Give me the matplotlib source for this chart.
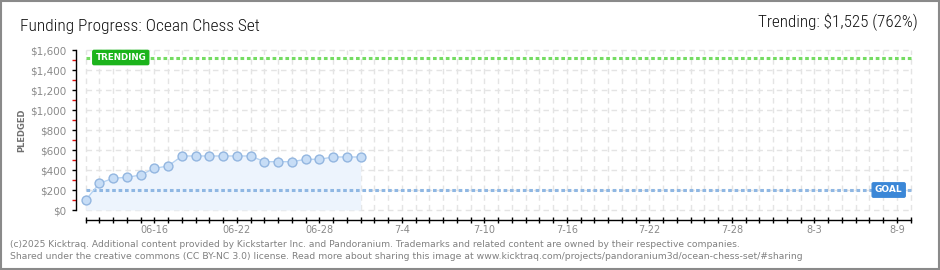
import matplotlib
matplotlib.use('Agg')
import matplotlib.pyplot as plt
from matplotlib import font_manager as fm
from matplotlib.patches import Rectangle
from matplotlib.ticker import FixedLocator

# campaign data (day 0 = 06-11)
days = list(range(21))
pledged = [100, 267, 317, 327, 350, 417, 440, 540, 540, 540, 540, 540, 540,
           483, 483, 483, 507, 507, 530, 530, 530]
goal = 200
trending = 1525
trending_pct = 762
n_days = 60

x_label_days = [5, 11, 17, 23, 29, 35, 41, 47, 53, 59]
x_labels = ['06-16', '06-22', '06-28', '7-4', '7-10', '7-16', '7-22', '7-28', '8-3', '8-9']
y_levels = [0, 200, 400, 600, 800, 1000, 1200, 1400, 1600]
y_minor = [100, 300, 500, 700, 900, 1100, 1300, 1500]

# pick a narrow / light face for the headings if one is installed
installed = {f.name for f in fm.fontManager.ttflist}
head_family = 'DejaVu Sans'
for name in ['Roboto Condensed', 'Liberation Sans Narrow', 'Roboto', 'Open Sans']:
    if name in installed:
        head_family = name
        break

W, H = 940, 270
fig = plt.figure(figsize=(W / 100, H / 100), dpi=100)

# pixel geometry of the plot area
x0_px, px_per_day = 85.7, 13.75
y0_px, px_per_usd = 210.0, 0.1
xlim = (-0.7, 60.3)
ylim = (-110, 1620)
left = (x0_px + xlim[0] * px_per_day) / W
width = (xlim[1] - xlim[0]) * px_per_day / W
bottom = (H - (y0_px - ylim[0] * px_per_usd)) / H
height = (ylim[1] - ylim[0]) * px_per_usd / H
ax = fig.add_axes([left, bottom, width, height])
ax.set_xlim(*xlim)
ax.set_ylim(*ylim)

# dashed grid
grid_kw = dict(color='#e4e4e4', lw=1.0, linestyles=(0, (4, 3)), zorder=0)
ax.vlines(range(n_days + 1), y_levels[0], y_levels[-1], **grid_kw)
ax.hlines(y_levels, 0, n_days, **grid_kw)

# pledged area + line
ax.fill_between(days, pledged, 0, color='#edf4fd', zorder=1, lw=0)
ax.plot(days, pledged, color='#b5d2f2', lw=1.0, marker='o', ms=6.4,
        mfc='#c7ddf6', mec='#93b6e0', mew=1.0, zorder=4)

# goal & trending dotted lines
dot_kw = dict(lw=2.2, dashes=(1.2, 0.9), dash_capstyle='butt', zorder=3)
ax.plot([0, n_days], [goal, goal], color='#8fb7e3', **dot_kw)
ax.plot([0, n_days], [trending, trending], color='#74dc62', **dot_kw)

ax.text(2.55, trending, 'TRENDING', ha='center', va='center', color='white',
        fontsize=6.3, fontweight='bold', zorder=6,
        bbox=dict(boxstyle='round,pad=0.3,rounding_size=0.15', fc='#1cb41c', ec='#1cb41c'))
ax.text(58.4, goal, 'GOAL', ha='center', va='center', color='white',
        fontsize=6.5, fontweight='bold', zorder=6,
        bbox=dict(boxstyle='round,pad=0.3,rounding_size=0.15', fc='#3b87d7', ec='#3b87d7'))

# axes
for s in ['top', 'right']:
    ax.spines[s].set_visible(False)
ax.spines['left'].set_bounds(y_levels[0], y_levels[-1])
ax.spines['bottom'].set_position(('data', -97))
ax.spines['bottom'].set_bounds(0, n_days)
for s in ['left', 'bottom']:
    ax.spines[s].set_linewidth(1.0)
    ax.spines[s].set_color('black')

tick_labels = [''] * (n_days + 1)
for d, lab in zip(x_label_days, x_labels):
    tick_labels[d] = lab
ax.set_xticks(range(n_days + 1))
ax.set_xticklabels(tick_labels)
ax.tick_params(axis='x', direction='inout', length=4, width=1.0, pad=2,
               labelsize=7, labelcolor='#8a8a8a')

ax.set_yticks(y_levels)
ax.set_yticklabels(['\\${:,}'.format(v) for v in y_levels])
ax.yaxis.set_minor_locator(FixedLocator(y_minor))
ax.tick_params(axis='y', which='major', direction='out', length=3, width=1.0, pad=4,
               labelsize=7.5, labelcolor='#8a8a8a')
ax.tick_params(axis='y', which='minor', direction='out', length=3, width=1.0, color='#e01010')
ax.set_facecolor('none')

# texts
title = fig.text(20 / W, 1 - 30.7 / H, 'Funding Progress: Ocean Chess Set', family=head_family,
                 fontweight='light', fontsize=12.5, color='#111111', va='baseline', ha='left')
trend = fig.text(918 / W, 1 - 27.3 / H,
                 'Trending: \\$' + '{:,}'.format(trending) + ' ({}%)'.format(trending_pct),
                 family=head_family, fontweight='light', fontsize=11.5, color='#111111',
                 va='baseline', ha='right')
fig.text(22 / W, 1 - 130 / H, 'PLEDGED', rotation=90, ha='center', va='center',
         fontsize=6, fontweight='bold', color='#707070')
foot1 = fig.text(10 / W, 1 - 246.7 / H,
                 '(c)2025 Kicktraq. Additional content provided by Kickstarter Inc. and Pandoranium. '
                 'Trademarks and related content are owned by their respective companies.',
                 fontsize=6.4, color='#808080', va='baseline')
foot2 = fig.text(10 / W, 1 - 259.3 / H,
                 'Shared under the creative commons (CC BY-NC 3.0) license. Read more about sharing this image at '
                 'www.kicktraq.com/projects/pandoranium3d/ocean-chess-set/#sharing',
                 fontsize=6.4, color='#808080', va='baseline')

# scale text so it spans the same width as in the reference
renderer = fig.canvas.get_renderer()
for t, target_px in [(title, 240), (trend, 160), (foot1, 730), (foot2, 796)]:
    w = t.get_window_extent(renderer).width
    t.set_fontsize(t.get_fontsize() * target_px / w)

fig.add_artist(Rectangle((0.75 / W, 0.75 / H), 938.5 / W, 268.5 / H, transform=fig.transFigure,
                         fill=False, ec='#8a8a8a', lw=1.5))

fig.savefig('out.png', dpi=100)
